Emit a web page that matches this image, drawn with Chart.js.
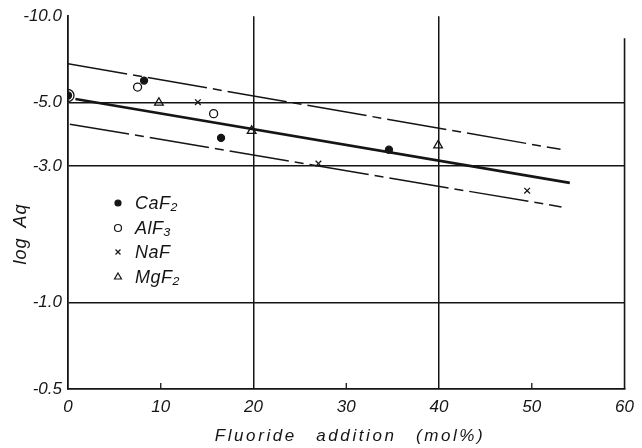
<!DOCTYPE html>
<html><head><meta charset="utf-8">
<script src="https://cdn.jsdelivr.net/npm/chart.js@4.4.1/dist/chart.umd.min.js"></script>
<style>html,body{margin:0;padding:0;background:#fff;}#wrap{width:642px;height:448px;}</style>
</head><body><div id="wrap"><canvas id="c" width="642" height="448"></canvas></div>
<script>
// ---- data ----
const xTicks = [0, 10, 20, 30, 40, 50, 60];
const yTickValues = [-10.0, -5.0, -3.0, -1.0, -0.5];
const xTitle = 'Fluoride addition (mol%)';
const yTitle = 'log Aq';
const seriesNames = ['CaF₂', 'AlF₃', 'NaF', 'MgF₂'];

const caf2X = [0, 8.2, 16.5, 34.6];
const caf2Y = [-5.29, -5.96, -3.76, -3.42];
const alf3X = [0, 7.5, 15.7];
const alf3Y = [-5.29, -5.66, -4.57];
const nafX = [14, 27, 49.5];
const nafY = [-5.01, -3.06, -2.46];
const mgf2X = [9.8, 19.8, 39.9];
const mgf2Y = [-4.99, -3.98, -3.54];

const meanLineX = [0.8, 54.1];
const meanLineY = [-5.14, -2.62];
const upperLineX = [0, 53.1];
const upperLineY = [-6.83, -3.43];
const lowerLineX = [0.2, 53.2];
const lowerLineY = [-4.20, -2.16];

// ---- build ----
const INK = '#151515';
const FONT = 'Liberation Sans';
const pts = (xs, ys) => xs.map((x, i) => ({x: x, y: Math.abs(ys[i])}));

const styles = {
  'CaF₂': {pointStyle: 'circle', radius: 3.5, fill: INK, lr: 3},
  'AlF₃': {pointStyle: 'circle', radius: 4, fill: 'rgba(0,0,0,0)', lr: 3.5},
  'NaF': {pointStyle: 'crossRot', radius: 4, fill: 'rgba(0,0,0,0)', lr: 3.5},
  'MgF₂': {pointStyle: 'triangle', radius: 5, fill: 'rgba(0,0,0,0)', lr: 4}
};

function lineDs(xs, ys, width, dash) {
  return {type: 'line', data: pts(xs, ys), borderColor: INK, borderWidth: width,
    borderDash: dash, pointRadius: 0, showLine: true, fill: false, tension: 0};
}
function pointDs(name, xs, ys, radius) {
  const s = styles[name];
  return {label: name, data: pts(xs, ys), showLine: false, pointStyle: s.pointStyle,
    pointRadius: radius || s.radius, backgroundColor: s.fill, borderColor: INK,
    pointBorderWidth: 1.3, pointHoverRadius: s.radius};
}

const extras = {
  id: 'extras',
  afterDraw(chart) {
    const ctx = chart.ctx, xs = chart.scales.x;
    const a = chart.chartArea;
    ctx.save();
    ctx.strokeStyle = INK;
    // right frame line (starts a little below the top of the plot)
    ctx.lineWidth = 1.6;
    const rx = xs.getPixelForValue(xTicks[xTicks.length - 1]);
    ctx.beginPath(); ctx.moveTo(rx, a.top + 22); ctx.lineTo(rx, a.bottom); ctx.stroke();
    // inward tick marks at the bottom for odd decades
    ctx.lineWidth = 1.3;
    xTicks.forEach(v => {
      if (v % 20 !== 0) {
        const px = xs.getPixelForValue(v);
        ctx.beginPath(); ctx.moveTo(px, a.bottom); ctx.lineTo(px, a.bottom - 6); ctx.stroke();
      }
    });
    // axis titles
    ctx.fillStyle = INK;
    ctx.font = 'italic 17px "' + FONT + '"';
    ctx.textAlign = 'center'; ctx.textBaseline = 'middle';
    try { ctx.letterSpacing = '2.6px'; ctx.wordSpacing = '12px'; } catch (e) {}
    ctx.fillText(xTitle, 350, 436);
    try { ctx.letterSpacing = '1px'; ctx.wordSpacing = '4px'; } catch (e) {}
    ctx.save();
    ctx.translate(21, 234); ctx.rotate(-Math.PI / 2);
    ctx.font = 'italic 18px "' + FONT + '"';
    ctx.fillText(yTitle, 0, 0);
    ctx.restore();
    try { ctx.letterSpacing = '0.5px'; ctx.wordSpacing = '0px'; } catch (e) {}
    // legend
    const rowsY = [203, 228, 252, 277];
    ctx.font = 'italic 18px "' + FONT + '"';
    ctx.textAlign = 'left';
    seriesNames.forEach((n, i) => {
      const s = styles[n];
      ctx.fillStyle = s.fill; ctx.strokeStyle = INK; ctx.lineWidth = 1.2;
      Chart.helpers.drawPoint(ctx, {pointStyle: s.pointStyle, radius: s.lr, borderWidth: 1.2, rotation: 0}, 118, rowsY[i]);
      ctx.fillStyle = INK;
      ctx.fillText(n, 135, rowsY[i] + 1);
    });
    ctx.restore();
  }
};

new Chart(document.getElementById('c'), {
  type: 'scatter',
  data: {
    datasets: [
      lineDs(meanLineX, meanLineY, 2.6, []),
      lineDs(upperLineX, upperLineY, 1.5, [60, 6, 9, 6]),
      lineDs(lowerLineX, lowerLineY, 1.5, [60, 6, 9, 6]),
      Object.assign(pointDs('AlF₃', alf3X, alf3Y), {pointRadius: c => c.dataIndex === 0 ? 6 : 4}),
      pointDs('CaF₂', caf2X, caf2Y),
      pointDs('NaF', nafX, nafY),
      pointDs('MgF₂', mgf2X, mgf2Y)
    ]
  },
  options: {
    responsive: false, animation: false, devicePixelRatio: 1,
    layout: {padding: {top: 16, right: 6, left: 0, bottom: 0}},
    plugins: {legend: {display: false}, tooltip: {enabled: false}},
    scales: {
      x: {
        type: 'linear', min: 0, max: 60,
        afterBuildTicks: s => { s.ticks = xTicks.map(v => ({value: v})); },
        afterFit: s => { s.height = 59; },
        ticks: {color: INK, padding: 8, font: {family: FONT, style: 'italic', size: 17}},
        grid: {drawTicks: false, lineWidth: 1.5,
          color: c => (c.tick && c.tick.value > 0 && c.tick.value < 60 && c.tick.value % 20 === 0) ? INK : 'rgba(0,0,0,0)'},
        border: {display: true, color: INK, width: 1.8}
      },
      y: {
        type: 'logarithmic', min: 0.5, max: 10,
        afterBuildTicks: s => { s.ticks = yTickValues.map(v => ({value: Math.abs(v)})); },
        afterFit: s => { s.width = 68; },
        ticks: {color: INK, padding: 6, font: {family: FONT, style: 'italic', size: 17},
          callback: (v) => { const t = yTickValues.find(t => Math.abs(Math.abs(t) - v) < 1e-9); return t === undefined ? '' : t.toFixed(1); }},
        grid: {drawTicks: false, lineWidth: 1.5,
          color: c => (c.tick && [1, 3, 5].includes(c.tick.value)) ? INK : 'rgba(0,0,0,0)'},
        border: {display: true, color: INK, width: 1.8}
      }
    }
  },
  plugins: [extras]
});
</script>
</body></html>
